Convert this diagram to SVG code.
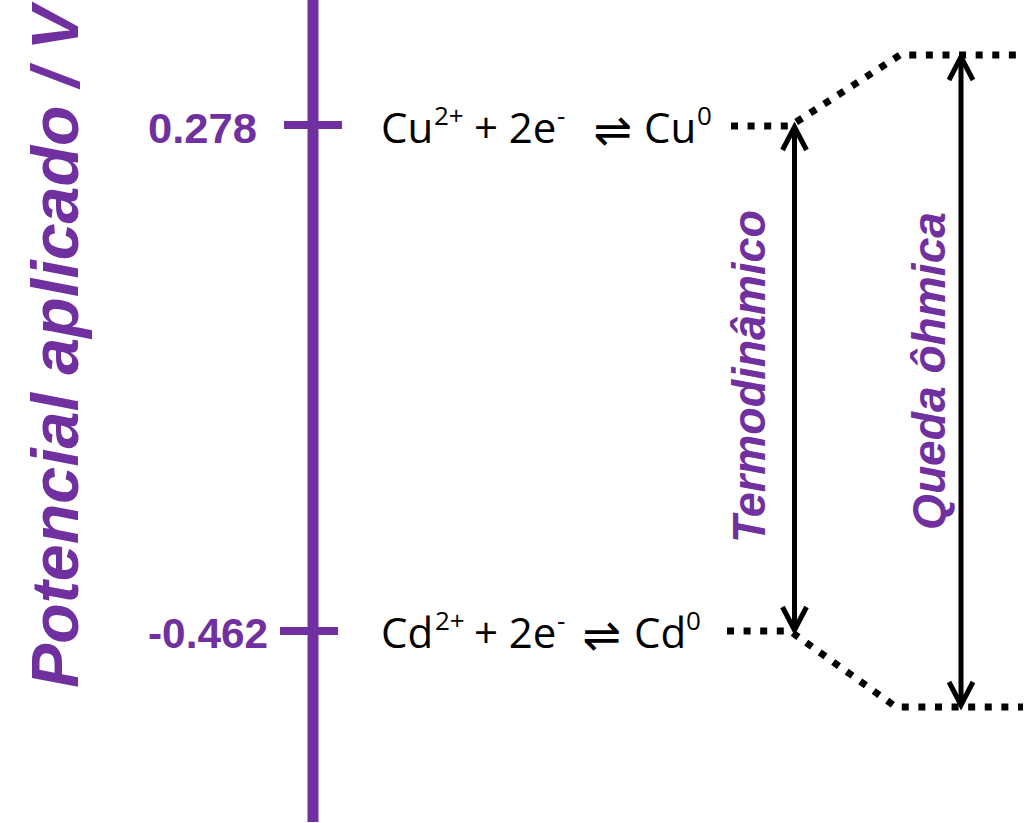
<svg xmlns="http://www.w3.org/2000/svg" width="1031" height="823" viewBox="0 0 1031 823">
<style>
.purple{fill:#7030A0;font-family:"Liberation Sans",Arial,sans-serif;font-weight:bold}
.ital{font-style:italic}
.rx{fill:#000;font-family:"Open Sans","Liberation Sans",sans-serif;font-size:42px}
.sup{font-size:26px}
.arr{font-family:"DejaVu Sans",sans-serif;font-size:46px}
.axis{stroke:#7030A0;fill:none}
.dots{stroke:#000;stroke-width:7;fill:none;stroke-dasharray:7 9.6}
.dbl{stroke:#000;stroke-width:5;fill:none}
</style>
<defs>
<marker id="head" markerUnits="userSpaceOnUse" viewBox="-30 -16 34 32" markerWidth="34" markerHeight="32" refX="0" refY="0" orient="auto-start-reverse" overflow="visible">
<path d="M-23,-12 L0,0 L-23,12" fill="none" stroke="#000" stroke-width="5" stroke-linejoin="miter"/>
</marker>
</defs>
<rect width="1031" height="823" fill="#fff"/>
<g id="axis">
<line class="axis" x1="313" y1="0" x2="313" y2="822" stroke-width="11"/>
<line class="axis" x1="284" y1="125" x2="342" y2="125" stroke-width="8"/>
<line class="axis" x1="280" y1="631" x2="338" y2="631" stroke-width="8"/>
<text class="purple ital" font-size="66" transform="translate(78,688) rotate(-90)" textLength="682" lengthAdjust="spacingAndGlyphs">Potencial aplicado / V</text>
</g>
<g id="tick-cu">
<text class="purple" x="148" y="143" font-size="42" textLength="109" lengthAdjust="spacingAndGlyphs">0.278</text>
</g>
<g id="tick-cd">
<text class="purple" x="148" y="648" font-size="42" textLength="120" lengthAdjust="spacingAndGlyphs">-0.462</text>
</g>
<g id="reaction-cu">
<text class="rx" y="143"><tspan x="381">Cu</tspan><tspan class="sup" x="434" y="125">2+</tspan><tspan x="463" y="143"> + 2e</tspan><tspan class="sup" x="557" y="125">-</tspan><tspan class="arr" x="579" y="146"> ⇌ </tspan><tspan x="644" y="143">Cu</tspan><tspan class="sup" x="697" y="125">0</tspan></text>
</g>
<g id="reaction-cd">
<text class="rx" y="648"><tspan x="381">Cd</tspan><tspan class="sup" x="435" y="630">2+</tspan><tspan x="463" y="648"> + 2e</tspan><tspan class="sup" x="557" y="630">-</tspan><tspan class="arr" x="568" y="651"> ⇌ </tspan><tspan x="634" y="648">Cd</tspan><tspan class="sup" x="686" y="630">0</tspan></text>
</g>
<g id="label-termo">
<text class="purple ital" font-size="47" transform="translate(765,543) rotate(-90)" textLength="333" lengthAdjust="spacingAndGlyphs">Termodinâmico</text>
</g>
<g id="label-queda">
<text class="purple ital" font-size="46" transform="translate(945,530) rotate(-90)" textLength="318" lengthAdjust="spacingAndGlyphs">Queda ôhmica</text>
</g>
<g id="connectors">
<path class="dots" d="M731,126 H790 L900,55 H1023"/>
<path class="dots" d="M727,631 H790 L896,707 H1023"/>
<line class="dbl" x1="794.5" y1="127" x2="794.5" y2="630" marker-start="url(#head)" marker-end="url(#head)"/>
<line class="dbl" x1="961" y1="57" x2="961" y2="705" marker-start="url(#head)" marker-end="url(#head)"/>
</g>
</svg>
